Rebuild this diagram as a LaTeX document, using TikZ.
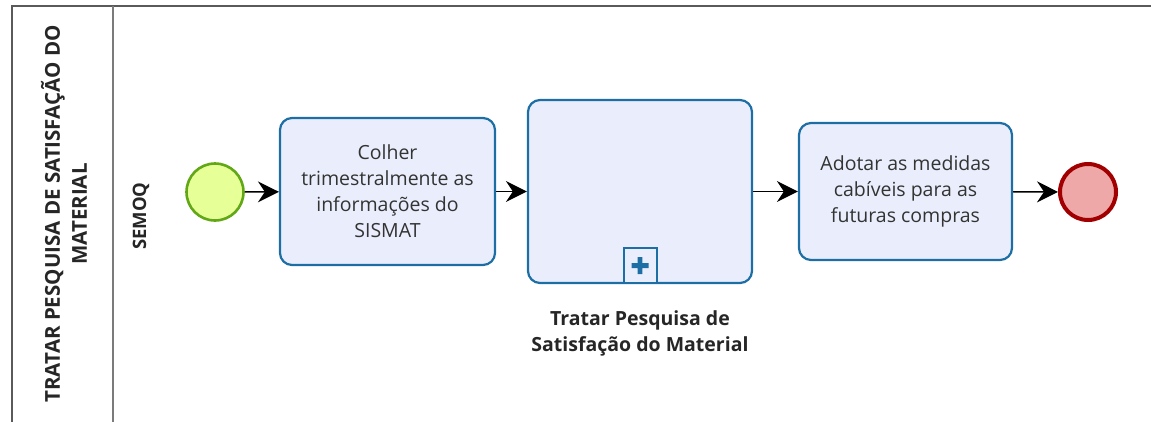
\documentclass[tikz,border=0pt]{standalone}
\usepackage{fontspec}
\setmainfont{Open Sans}
\usetikzlibrary{arrows.meta,positioning}
\definecolor{taskline}{HTML}{1C6EA4}
\definecolor{taskfill}{HTML}{EAEEFC}
\definecolor{startline}{HTML}{62A716}
\definecolor{startfill}{HTML}{E6FF97}
\definecolor{endline}{HTML}{A20000}
\definecolor{endfill}{HTML}{EEA8A8}
\definecolor{poolline}{HTML}{5A5A5A}
\definecolor{tasktext}{HTML}{333333}
\tikzset{
  task/.style={draw=taskline, fill=taskfill, line width=2.2pt, rounded corners=12pt,
    align=center, text=tasktext, font=\fontsize{19.5}{26}\selectfont, inner sep=0pt},
  startev/.style={circle, draw=startline, fill=startfill, line width=2.6pt,
    minimum size=57pt, inner sep=0pt},
  endev/.style={circle, draw=endline, fill=endfill, line width=4pt,
    minimum size=56pt, inner sep=0pt},
  flow/.style={-{Stealth[length=21pt,width=21pt,inset=7pt]}, line width=1.4pt, black}
}
\begin{document}
\begin{tikzpicture}[x=1pt,y=-1pt]
  \useasboundingbox (0,0) rectangle (1151,421);
  % pool and lane
  \draw[poolline, line width=2pt] (12,425) |- (1155,6);
  \draw[poolline!80, line width=1.6pt] (113,6) -- (113,425);
  \node[rotate=90, align=center, font=\fontsize{20.5}{27}\selectfont\bfseries, text=black!85] (pool)
    at (64,214) {TRATAR PESQUISA DE SATISFAÇÃO DO\\MATERIAL};
  \node[rotate=90, font=\fontsize{18.5}{20}\selectfont\bfseries, text=black!85] (lane)
    at (141,216) {SEMOQ};
  % events and tasks
  \node[startev] (start) at (215,192) {};
  \node[task, minimum width=215pt, minimum height=147pt] (colher) at (387.5,191.5)
    {Colher\\trimestralmente as\\informações do\\SISMAT};
  \node[task, minimum width=224pt, minimum height=183pt] (tratar) at (640,191.5) {};
  \node[draw=taskline, fill=taskfill, line width=2pt, minimum width=33pt, minimum height=35pt,
    inner sep=0pt, anchor=south] (plus) at (tratar.south) {};
  \fill[taskline] ([xshift=-2.4pt,yshift=-8.5pt]plus.center) rectangle ([xshift=2.4pt,yshift=8.5pt]plus.center)
    ([xshift=-8.5pt,yshift=-2.4pt]plus.center) rectangle ([xshift=8.5pt,yshift=2.4pt]plus.center);
  \node[align=center, font=\fontsize{19.5}{26}\selectfont\bfseries,
    text=black!85] (tratarlbl) at (640,333) {Tratar Pesquisa de\\Satisfação do Material};
  \node[task, minimum width=213pt, minimum height=137pt] (adotar) at (905.5,191.5)
    {Adotar as medidas\\cabíveis para as\\futuras compras};
  \node[endev] (fim) at (1088,192) {};
  % sequence flows
  \draw[flow] (start) -- (colher);
  \draw[flow] (colher) -- (tratar);
  \draw[flow] (tratar) -- (adotar);
  \draw[flow] (adotar) -- (fim);
\end{tikzpicture}
\end{document}
